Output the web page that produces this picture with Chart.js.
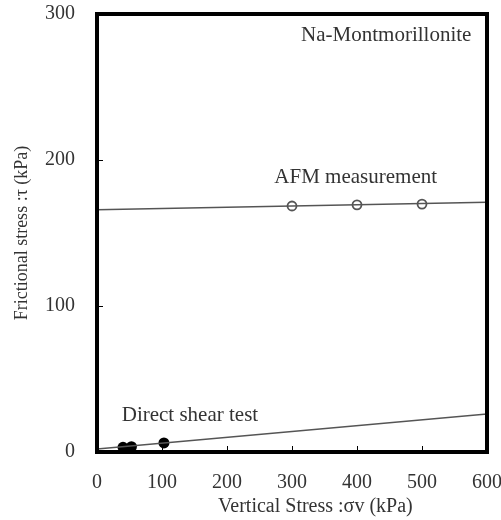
<!DOCTYPE html>
<html>
<head>
<meta charset="utf-8">
<script src="https://cdn.jsdelivr.net/npm/chart.js@4/dist/chart.umd.min.js"></script>
<style>
  html, body { margin: 0; padding: 0; background: #fff; }
  #wrap { width: 501px; height: 520px; }
</style>
</head>
<body>
<div id="wrap"><canvas id="frictionChart"></canvas></div>
<script>
// datos
const afmStress = [300, 400, 500];
const afmFriction = [168.5, 169.3, 169.8];
const afmLineX = [0, 600];
const afmLineY = [166, 171];

const shearStress = [40, 53, 103];
const shearFriction = [3.2, 3.6, 6.2];
const shearLineX = [0, 600];
const shearLineY = [2, 26];

const xTicks = [0, 100, 200, 300, 400, 500, 600];
const yTicks = [0, 100, 200, 300];

const serif = '"Liberation Serif", "Times New Roman", serif';
const txtColor = '#333';

const toXY = (xs, ys) => xs.map((x, i) => ({ x: x, y: ys[i] }));

// quitar el relleno automatico que Chart.js pone por las etiquetas
const noOverhang = s => {
  s.paddingLeft = 0; s.paddingRight = 0;
  s.paddingTop = 0; s.paddingBottom = 0;
};

// borde grueso, marcas interiores y anotaciones
const framePlugin = {
  id: 'frame',
  afterDraw(chart) {
    const { ctx, chartArea: a, scales } = chart;
    const sx = scales.x, sy = scales.y;
    ctx.save();
    ctx.strokeStyle = '#000';
    ctx.lineWidth = 1;
    xTicks.slice(1, -1).forEach(v => {
      const px = Math.round(sx.getPixelForValue(v)) + 0.5;
      ctx.beginPath(); ctx.moveTo(px, a.bottom); ctx.lineTo(px, a.bottom - 6); ctx.stroke();
    });
    yTicks.slice(1, -1).forEach(v => {
      const py = Math.round(sy.getPixelForValue(v)) + 0.5;
      ctx.beginPath(); ctx.moveTo(a.left, py); ctx.lineTo(a.left + 6, py); ctx.stroke();
    });
    ctx.lineWidth = 4;
    ctx.strokeRect(a.left, a.top, a.right - a.left, a.bottom - a.top);

    ctx.fillStyle = txtColor;
    ctx.font = '21px ' + serif;
    ctx.textAlign = 'center';
    ctx.textBaseline = 'middle';
    ctx.fillText('Na-Montmorillonite', sx.getPixelForValue(445), sy.getPixelForValue(285));
    ctx.fillText('AFM measurement', sx.getPixelForValue(398), sy.getPixelForValue(188));
    ctx.fillText('Direct shear test', sx.getPixelForValue(143), sy.getPixelForValue(25));

    // titulo del eje x, algo desplazado a la derecha como en la figura
    ctx.font = '20px ' + serif;
    ctx.fillText('Vertical Stress :σv (kPa)', sx.getPixelForValue(336), 507);
    ctx.restore();
  }
};

const ctx = document.getElementById('frictionChart').getContext('2d');
new Chart(ctx, {
  type: 'scatter',
  data: {
    datasets: [
      {
        label: 'AFM fit',
        data: toXY(afmLineX, afmLineY),
        showLine: true,
        borderColor: '#555',
        borderWidth: 1.5,
        pointRadius: 0
      },
      {
        label: 'AFM measurement',
        data: toXY(afmStress, afmFriction),
        pointStyle: 'circle',
        pointRadius: 4.5,
        pointBorderWidth: 1.8,
        pointBorderColor: '#555',
        pointBackgroundColor: '#fff'
      },
      {
        label: 'Direct shear fit',
        data: toXY(shearLineX, shearLineY),
        showLine: true,
        borderColor: '#555',
        borderWidth: 1.5,
        pointRadius: 0
      },
      {
        label: 'Direct shear test',
        data: toXY(shearStress, shearFriction),
        pointStyle: 'circle',
        pointRadius: 5.5,
        pointBorderWidth: 0,
        pointBackgroundColor: '#000'
      }
    ]
  },
  options: {
    responsive: true,
    maintainAspectRatio: false,
    animation: false,
    layout: { padding: { top: 14, right: 14, left: 0, bottom: 0 } },
    plugins: {
      legend: { display: false },
      tooltip: { enabled: false }
    },
    scales: {
      x: {
        type: 'linear',
        min: 0,
        max: 600,
        afterBuildTicks: s => { s.ticks = xTicks.map(v => ({ value: v })); },
        afterFit: s => { s.height = 68; noOverhang(s); },
        grid: { display: false, drawTicks: false },
        border: { display: false },
        ticks: { color: txtColor, padding: 19, font: { family: serif, size: 20 } }
      },
      y: {
        type: 'linear',
        min: 0,
        max: 300,
        afterBuildTicks: s => { s.ticks = yTicks.map(v => ({ value: v })); },
        afterFit: s => { s.width = 97; noOverhang(s); },
        grid: { display: false, drawTicks: false },
        border: { display: false },
        ticks: { color: txtColor, padding: 22, font: { family: serif, size: 20 } },
        title: {
          display: true,
          text: 'Frictional stress :τ (kPa)',
          color: txtColor,
          font: { family: serif, size: 18 },
          padding: { top: 11, bottom: 0 }
        }
      }
    }
  },
  plugins: [framePlugin]
});
</script>
</body>
</html>
